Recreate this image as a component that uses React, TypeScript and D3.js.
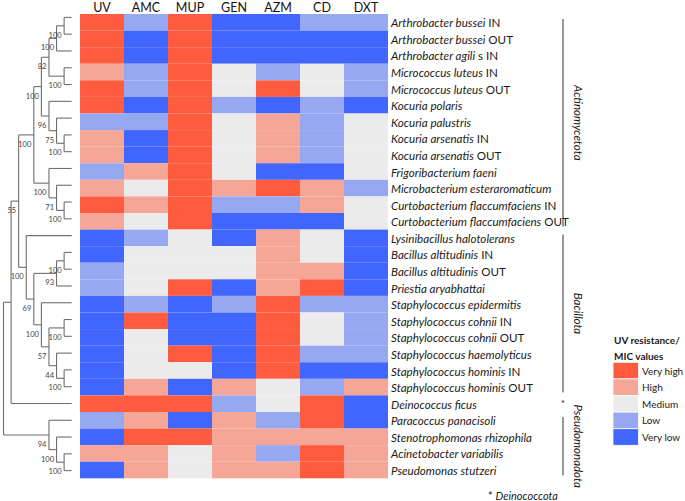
import React, { useMemo } from "react"
import * as d3 from "d3"

// columns of the heatmap
const treatments = ["UV", "AMC", "MUP", "GEN", "AZM", "CD", "DXT"]

// isolates, top to bottom
const species = [
  "Arthrobacter bussei",
  "Arthrobacter bussei",
  "Arthrobacter agili",
  "Micrococcus luteus",
  "Micrococcus luteus",
  "Kocuria polaris",
  "Kocuria palustris",
  "Kocuria arsenatis",
  "Kocuria arsenatis",
  "Frigoribacterium faeni",
  "Microbacterium esteraromaticum",
  "Curtobacterium flaccumfaciens",
  "Curtobacterium flaccumfaciens",
  "Lysinibacillus halotolerans",
  "Bacillus altitudinis",
  "Bacillus altitudinis",
  "Priestia aryabhattai",
  "Staphylococcus epidermitis",
  "Staphylococcus cohnii",
  "Staphylococcus cohnii",
  "Staphylococcus haemolyticus",
  "Staphylococcus hominis",
  "Staphylococcus hominis",
  "Deinococcus ficus",
  "Paracoccus panacisoli",
  "Stenotrophomonas rhizophila",
  "Acinetobacter variabilis",
  "Pseudomonas stutzeri",
]

const origin = [
  "IN", "OUT", "s IN", "IN", "OUT", "", "", "IN", "OUT", "", "", "IN", "OUT",
  "", "IN", "OUT", "", "", "IN", "OUT", "", "IN", "OUT", "", "", "", "", "",
]

// 1 = very low ... 5 = very high, one row per isolate in treatments order
const levels = [
  [5, 2, 5, 1, 1, 2, 2],
  [5, 1, 5, 1, 1, 1, 1],
  [5, 1, 5, 1, 1, 1, 1],
  [4, 2, 5, 3, 2, 3, 2],
  [5, 2, 5, 3, 5, 3, 2],
  [5, 1, 5, 2, 1, 2, 1],
  [2, 2, 5, 3, 4, 2, 3],
  [4, 1, 5, 3, 4, 2, 3],
  [4, 1, 5, 3, 4, 2, 3],
  [2, 4, 5, 3, 1, 1, 3],
  [4, 3, 5, 4, 5, 4, 2],
  [5, 4, 5, 2, 2, 4, 3],
  [4, 3, 5, 1, 1, 1, 3],
  [1, 2, 3, 1, 4, 3, 1],
  [1, 3, 3, 3, 4, 3, 1],
  [2, 3, 3, 3, 4, 4, 1],
  [2, 3, 5, 1, 4, 5, 1],
  [1, 2, 1, 2, 5, 2, 2],
  [1, 5, 1, 1, 5, 3, 2],
  [1, 3, 1, 1, 5, 3, 2],
  [1, 3, 5, 1, 5, 2, 2],
  [1, 3, 3, 1, 5, 1, 1],
  [1, 4, 1, 4, 3, 2, 4],
  [5, 5, 5, 2, 3, 5, 1],
  [2, 4, 1, 4, 2, 5, 1],
  [1, 5, 5, 4, 4, 4, 4],
  [4, 4, 3, 4, 2, 5, 4],
  [1, 4, 3, 4, 4, 5, 4],
]

const levelNames = ["Very high", "High", "Medium", "Low", "Very low"]
const levelValues = [5, 4, 3, 2, 1]
const levelColors = ["#ff5b3f", "#f6a697", "#ebebeb", "#97a8f3", "#4066fe"]

// phylum brackets (first and last row index)
const phyla = ["Actinomycetota", "Bacillota", "Pseudomonadota"]
const phylumFirst = [0, 13, 24]
const phylumLast = [12, 22, 27]

// tree in newick form, leaves are row indices, node labels are bootstrap values
const actinoClade =
  "(((((0,1)100,2)100,(3,4)100)82,(5,(6,(7,8)100)75)96)100,(9,(10,(11,12)100)71)100)100"
const bacillotaClade =
  "(13,(((14,15)100,16)93,(17,((18,19)100,(20,(21,22)100)44)57)100)69)100"
const pseudoClade = "(24,(25,(26,27)100)100)94"
const newick = `(((${actinoClade},${bacillotaClade})55,23),${pseudoClade})`

type TreeNode = { leaf?: number; support?: string; children?: TreeNode[] }

function parseNewick(s: string): TreeNode {
  let i = 0
  const token = () => {
    let t = ""
    while (i < s.length && /[0-9]/.test(s[i])) t += s[i++]
    return t
  }
  const node = (): TreeNode => {
    if (s[i] === "(") {
      i++
      const children = [node()]
      while (s[i] === ",") {
        i++
        children.push(node())
      }
      i++
      return { children, support: token() }
    }
    return { leaf: +token() }
  }
  return node()
}

const W = 685
const H = 501
const FONT = "Lato, 'Open Sans', sans-serif"

export default function App() {
  const x = d3.scaleBand<string>().domain(treatments).range([80, 388])
  const rows = d3.range(species.length)
  const y = d3.scaleBand<number>().domain(rows).range([14, 478.3])
  const color = d3.scaleOrdinal<number, string>().domain(levelValues).range(levelColors)

  const tree = useMemo(() => {
    const root = d3.hierarchy(parseNewick(newick), (d) => d.children)
    d3.cluster<TreeNode>().size([1, 1]).separation(() => 1)(root)
    return root as d3.HierarchyPointNode<TreeNode>
  }, [])

  const leafY = d3.scaleLinear().domain([0, 1]).range([9, 479])
  const depthX = d3.scaleLinear().domain([0, 1]).range([3.5, 71.7])

  const nodes = tree.descendants()
  const lineColor = "#6e6e6e"

  const legendY = d3.scaleBand<number>().domain(d3.range(levelNames.length)).range([362.3, 445.3])

  return (
    <svg width={W} height={H} style={{ position: "absolute", left: 0, top: 0, background: "#fff" }} fontFamily={FONT}>
      {/* dendrogram */}
      <g stroke={lineColor} strokeWidth={1.1} fill="none">
        {nodes.map((n, i) =>
          n.children ? (
            <line
              key={"v" + i}
              x1={depthX(n.y)}
              x2={depthX(n.y)}
              y1={leafY(n.children[0].x)}
              y2={leafY(n.children[n.children.length - 1].x)}
            />
          ) : null
        )}
        {nodes.map((n, i) =>
          n.parent ? (
            <line key={"h" + i} x1={depthX(n.parent.y)} x2={depthX(n.y)} y1={leafY(n.x)} y2={leafY(n.x)} />
          ) : null
        )}
      </g>
      <g fontSize={7.5} fill="#444" textAnchor="end">
        {nodes
          .filter((n) => n.children && n.data.support)
          .map((n, i) => (
            <text key={i} x={depthX(n.y) - 2.5} y={leafY(n.x) + 9.5} dominantBaseline="central">
              {n.data.support}
            </text>
          ))}
      </g>

      {/* heatmap */}
      <g>
        {levels.map((row, r) =>
          row.map((v, c) => (
            <rect
              key={r + "-" + c}
              x={x(treatments[c])}
              y={y(r)}
              width={x.bandwidth()}
              height={y.bandwidth()}
              fill={color(v)}
            />
          ))
        )}
      </g>

      {/* column headers */}
      <g fontSize={12.5} fill="#111" textAnchor="middle">
        {treatments.map((t) => (
          <text key={t} x={(x(t) as number) + x.bandwidth() / 2} y={11.5}>
            {t}
          </text>
        ))}
      </g>

      {/* isolate labels */}
      <g fontSize={11.6} fill="#1a1a1a">
        {species.map((s, r) => (
          <text key={r} x={391} y={(y(r) as number) + y.bandwidth() / 2} dominantBaseline="central">
            <tspan fontStyle="italic">{s}</tspan>
            {origin[r] ? <tspan> {origin[r]}</tspan> : null}
          </text>
        ))}
      </g>

      {/* phylum brackets */}
      <g>
        {phyla.map((p, i) => {
          const y1 = (y(phylumFirst[i]) as number) + 5
          const y2 = (y(phylumLast[i]) as number) + y.bandwidth() - 3
          const mid = (y1 + y2) / 2
          return (
            <g key={p}>
              <line x1={563} x2={563} y1={y1} y2={y2} stroke="#333" strokeWidth={1} />
              <text
                transform={`translate(578,${mid}) rotate(90)`}
                textAnchor="middle"
                dominantBaseline="central"
                fontSize={11.5}
                fontStyle="italic"
                fill="#1a1a1a"
              >
                {p}
              </text>
            </g>
          )
        })}
        <text x={563} y={(y(23) as number) + y.bandwidth() / 2 + 3} textAnchor="middle" fontSize={10} fill="#1a1a1a">
          *
        </text>
        <text x={523} y={495} textAnchor="middle" dominantBaseline="central" fontSize={11} fill="#1a1a1a">
          <tspan>* </tspan>
          <tspan fontStyle="italic">Deinococcota</tspan>
        </text>
      </g>

      {/* legend */}
      <g fill="#1a1a1a">
        <text x={614} y={339.5} fontSize={10} fontWeight="bold" dominantBaseline="central">
          UV resistance/
        </text>
        <text x={614} y={355.5} fontSize={10} fontWeight="bold" dominantBaseline="central">
          MIC values
        </text>
        {levelNames.map((name, i) => (
          <g key={name}>
            <rect
              x={613}
              y={legendY(i)}
              width={25.5}
              height={legendY.bandwidth()}
              fill={levelColors[i]}
              stroke="#fff"
              strokeWidth={0.8}
            />
            <text
              x={642}
              y={(legendY(i) as number) + legendY.bandwidth() / 2}
              fontSize={10}
              dominantBaseline="central"
            >
              {name}
            </text>
          </g>
        ))}
      </g>
    </svg>
  )
}
